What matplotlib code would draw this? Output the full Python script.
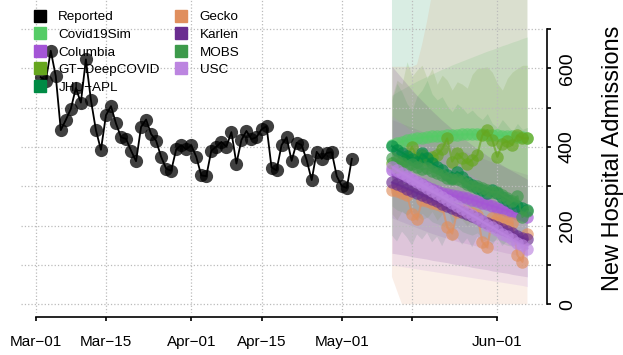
import numpy as np
import matplotlib
matplotlib.use("Agg")
import matplotlib.pyplot as plt
import matplotlib.dates as mdates
from matplotlib.lines import Line2D

plt.rcParams['font.family'] = ['Liberation Sans', 'DejaVu Sans']

# reported daily admissions, one value per day from 2021-03-02 to 2021-05-03
reported_start = np.datetime64('2021-03-02')
reported = [578, 568, 645, 580, 443, 469, 497, 550, 513, 623, 520, 443, 393, 481, 504, 460, 425, 421,
            391, 364, 451, 470, 433, 416, 375, 345, 340, 394, 405, 394, 405, 375, 328, 326, 391, 401,
            413, 401, 438, 358, 418, 441, 420, 425, 445, 453, 348, 341, 405, 425, 365, 411, 405, 367,
            316, 388, 370, 385, 387, 326, 301, 296, 370]

# forecasts, one value per day from 2021-05-11 to 2021-06-07
forecast_start = np.datetime64('2021-05-11')
models = ['Covid19Sim', 'Columbia', 'GT\u2212DeepCOVID', 'JHU\u2212APL', 'Gecko', 'Karlen', 'MOBS', 'USC']
colors = ['#55cc66', '#a455d6', '#66a61e', '#008b45', '#e08f5e', '#6a2d90', '#3d9a4b', '#bc85e0']

covid19sim = [405, 410, 414, 417, 420, 422, 424, 426, 427, 428, 429, 430, 431, 431,
              432, 432, 432, 432, 432, 431, 431, 430, 429, 428, 427, 426, 425, 424]
columbia = [341, 335, 329, 323, 317, 311, 305, 299, 293, 287, 284, 281, 278, 275,
            272, 270, 266, 262, 258, 254, 250, 246, 242, 238, 234, 230, 226, 223]
gt_deepcovid = [360, 350, 365, 372, 401, 372, 380, 368, 375, 380, 395, 422, 363, 384,
                372, 358, 368, 380, 430, 443, 418, 375, 409, 415, 405, 430, 422, 422]
jhu_apl = [402, 393, 386, 378, 370, 362, 384, 372, 360, 350, 341, 330, 322, 337,
           325, 312, 303, 296, 290, 284, 292, 284, 274, 266, 258, 250, 244, 240]
gecko = [292, 287, 282, 277, 231, 216, 265, 262, 258, 254, 250, 196, 180, 236,
         240, 236, 232, 228, 159, 145, 219, 218, 214, 210, 206, 125, 108, 180]
karlen = [310, 305, 300, 294, 289, 283, 278, 273, 267, 262, 256, 251, 246, 240,
          235, 229, 224, 219, 213, 208, 202, 197, 192, 186, 181, 175, 170, 165]
mobs = [372, 365, 360, 352, 356, 349, 343, 346, 338, 333, 330, 322, 318, 320,
        313, 305, 300, 302, 296, 290, 285, 286, 278, 270, 262, 275, 222, 238]
usc = [350, 342, 334, 327, 319, 311, 304, 296, 288, 280, 273, 265, 257, 250,
       242, 234, 226, 219, 211, 203, 196, 188, 180, 173, 165, 157, 150, 142]

# prediction intervals (lower / upper)
covid19sim_lo = [330, 328, 325, 322, 318, 315, 312, 308, 305, 301, 298, 294, 290, 287,
                 283, 279, 275, 271, 267, 263, 259, 255, 251, 247, 243, 239, 235, 231]
covid19sim_hi = [532, 540, 547, 554, 561, 568, 574, 580, 586, 592, 598, 603, 609, 614,
                 619, 624, 629, 634, 639, 644, 648, 653, 658, 662, 667, 671, 676, 680]
columbia_lo = [220, 215, 210, 205, 200, 195, 190, 185, 180, 176, 172, 168, 164, 160,
               157, 154, 151, 148, 145, 142, 139, 136, 133, 130, 128, 126, 124, 122]
columbia_hi = [470, 465, 460, 455, 450, 445, 440, 435, 428, 422, 416, 410, 404, 398,
               392, 387, 382, 377, 372, 367, 362, 357, 352, 347, 342, 338, 334, 330]
gt_deepcovid_lo = [230, 215, 238, 226, 240, 212, 232, 220, 236, 214, 230, 245, 205, 228,
                   215, 200, 218, 230, 250, 262, 240, 210, 236, 240, 228, 250, 238, 240]
gt_deepcovid_hi = [528, 570, 560, 617, 580, 596, 608, 575, 600, 560, 583, 570, 545, 566,
                   560, 550, 585, 600, 602, 604, 590, 562, 545, 575, 591, 600, 608, 608]
jhu_apl_lo = [175, 160, 185, 170, 150, 178, 165, 182, 158, 172, 148, 176, 160, 170,
              152, 168, 145, 172, 158, 165, 150, 170, 148, 162, 155, 168, 150, 168]
jhu_apl_hi = [880, 900, 920, 940, 960, 980, 990, 1000, 1010, 1020, 1030, 1040, 1050, 1060,
              1070, 1080, 1090, 1100, 1110, 1120, 1130, 1140, 1150, 1160, 1170, 1180, 1190, 1200]
gecko_lo = [70, 35, 0, 0, 0, 0, 0, 0, 0, 0, 0, 0, 0, 0,
            0, 0, 0, 0, 0, 0, 0, 0, 0, 0, 0, 0, 0, 0]
gecko_hi = [604, 604, 604, 604, 604, 610, 660, 720, 790, 850, 900, 950, 1000, 1050,
            1100, 1150, 1200, 1250, 1300, 1350, 1400, 1450, 1500, 1550, 1600, 1650, 1700, 1750]
karlen_lo = [130, 128, 126, 124, 121, 119, 117, 115, 112, 110, 108, 106, 103, 101,
             99, 97, 94, 92, 90, 88, 85, 83, 81, 79, 76, 74, 72, 70]
karlen_hi = [605, 590, 575, 560, 545, 531, 518, 505, 492, 480, 468, 457, 446, 435,
             425, 415, 405, 396, 387, 378, 370, 362, 354, 346, 339, 332, 325, 318]
mobs_lo = [250, 240, 235, 228, 236, 225, 215, 222, 210, 205, 200, 195, 190, 196,
           185, 180, 176, 182, 170, 165, 160, 166, 155, 150, 148, 152, 140, 145]
mobs_hi = [520, 562, 540, 510, 494, 530, 545, 570, 535, 520, 528, 505, 490, 510,
           500, 485, 494, 480, 470, 485, 460, 450, 470, 455, 440, 460, 445, 450]
usc_lo = [100, 98, 96, 94, 92, 90, 88, 86, 84, 82, 80, 78, 76, 74,
          72, 70, 68, 66, 64, 62, 60, 58, 56, 54, 52, 50, 48, 45]
usc_hi = [480, 470, 460, 450, 440, 430, 420, 410, 400, 390, 381, 372, 363, 354,
          345, 336, 328, 320, 312, 304, 296, 288, 280, 272, 265, 258, 251, 244]

medians = [covid19sim, columbia, gt_deepcovid, jhu_apl, gecko, karlen, mobs, usc]
lowers = [covid19sim_lo, columbia_lo, gt_deepcovid_lo, jhu_apl_lo, gecko_lo, karlen_lo, mobs_lo, usc_lo]
uppers = [covid19sim_hi, columbia_hi, gt_deepcovid_hi, jhu_apl_hi, gecko_hi, karlen_hi, mobs_hi, usc_hi]

tick_dates = ['2021-03-01', '2021-03-15', '2021-04-01', '2021-04-15', '2021-05-01', '2021-05-15', '2021-06-01']
tick_labels = ['Mar\u221201', 'Mar\u221215', 'Apr\u221201', 'Apr\u221215', 'May\u221201', '', 'Jun\u221201']
y_ticks = [0, 100, 200, 300, 400, 500, 600, 700]
y_labels = ['0', '', '200', '', '400', '', '600', '']

rep_dates = reported_start + np.arange(len(reported))
fc_dates = forecast_start + np.arange(len(covid19sim))

fig = plt.figure(figsize=(6.23, 3.55), dpi=100)
ax = fig.add_axes([21 / 623, 42 / 355, 522 / 623, 313 / 355])

# intervals first, then the model lines on top
for lo, hi, c in zip(lowers, uppers, colors):
    ax.fill_between(fc_dates, lo, hi, color=c, alpha=0.15, lw=0)
for vals, c in zip(medians, colors):
    ax.plot(fc_dates, vals, '-o', color=c, alpha=0.65, lw=1.5, ms=9, mec='none')

ax.plot(rep_dates, reported, color='black', lw=1.3)
ax.plot(rep_dates, reported, 'o', color='black', alpha=0.75, ms=9.5, mec='none')

x0 = mdates.date2num(np.datetime64('2021-03-01'))
ax.set_xlim(x0 - 2.93, x0 + 101.1)
ax.set_ylim(-22, 774)

ax.set_xticks([mdates.date2num(np.datetime64(d)) for d in tick_dates])
ax.set_xticklabels(tick_labels)
ax.set_yticks(y_ticks)
ax.set_yticklabels(y_labels)
ax.yaxis.tick_right()

for s in ['top', 'left']:
    ax.spines[s].set_visible(False)
ax.spines['bottom'].set_position(('outward', 3.1))
ax.spines['bottom'].set_bounds(mdates.date2num(np.datetime64(tick_dates[0])),
                               mdates.date2num(np.datetime64(tick_dates[-1])))
ax.spines['right'].set_position(('outward', 2.9))
ax.spines['right'].set_bounds(0, 700)
for s in ['bottom', 'right']:
    ax.spines[s].set_linewidth(1.2)

ax.tick_params(axis='x', direction='out', length=3, width=1.2, labelsize=11, pad=9.5)
ax.tick_params(axis='y', direction='out', length=3, width=1.2, labelsize=14, pad=5.5,
               labelrotation=90)
for t in ax.get_yticklabels():
    t.set_verticalalignment('center')

ax.grid(True, ls=':', color='#bbbbbb', lw=0.9)

handles = [Line2D([], [], marker='s', ls='none', color='black', ms=8)]
handles += [Line2D([], [], marker='s', ls='none', color=c, ms=8) for c in colors]
ax.legend(handles, ['Reported'] + models, loc='upper left', ncol=2, frameon=False,
          bbox_to_anchor=(33 / 623, 1 - 11 / 355), bbox_transform=fig.transFigure,
          fontsize=9.7, handlelength=1.0, handletextpad=0.88, columnspacing=1.08,
          labelspacing=0.38, borderpad=0, borderaxespad=0)

fig.text(613 / 623, 1 - 158.5 / 355, 'New Hospital Admissions', rotation=90,
         ha='center', va='center', fontsize=17)

fig.savefig('out.png', dpi=100)
